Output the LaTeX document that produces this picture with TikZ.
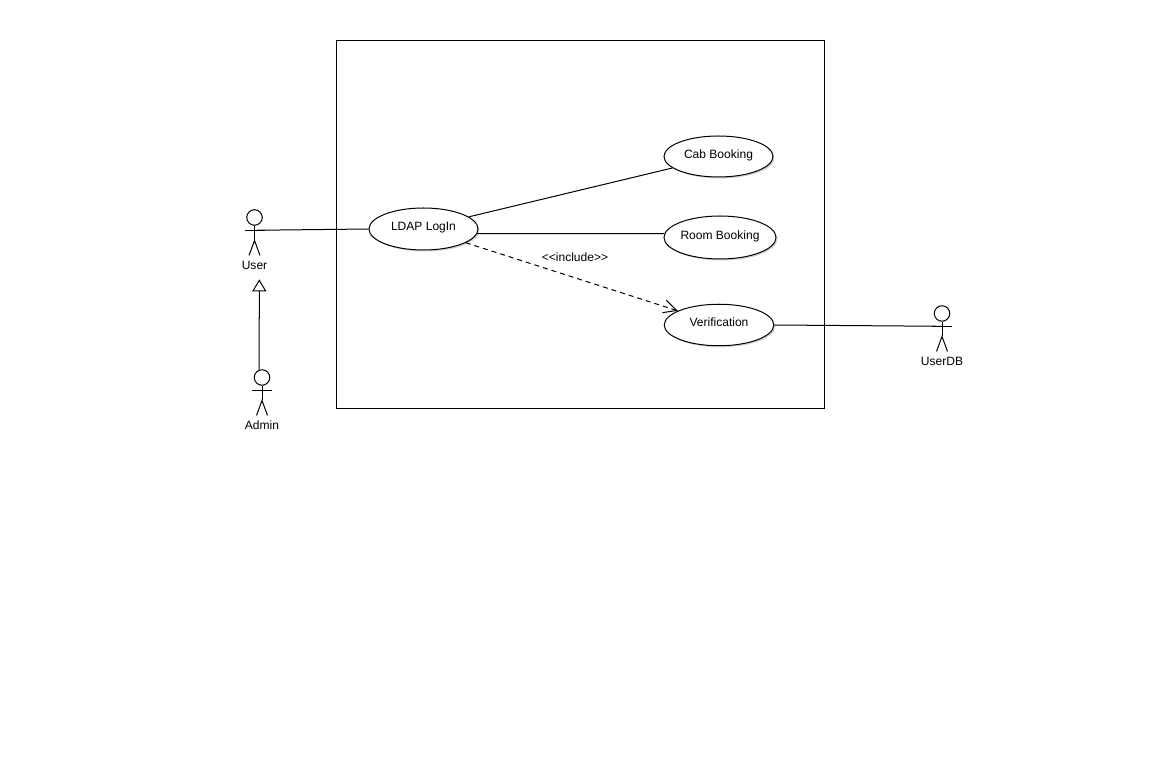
\documentclass[tikz,border=0pt]{standalone}
\usepackage{fontspec}
\setmainfont{Liberation Sans}
\usetikzlibrary{arrows.meta}
\usetikzlibrary{shapes.geometric}
\usetikzlibrary{shadows}

\tikzset{
  labeltext/.style={font=\fontsize{6.85}{8}\selectfont},
  usecase/.style={ellipse, draw, fill=white, inner sep=0, labeltext, text height=.18cm, text depth=.10cm,
    drop shadow={shadow xshift=.03cm, shadow yshift=-.03cm, fill=gray!70}},
  actorhead/.style={circle, draw, inner sep=0, minimum size=.31cm},
  actor/.pic={
    \node[actorhead] (-head) at (0,0) {};
    \coordinate (-arm) at (0,-.256);
    \draw (-.2,-.256) -- (.2,-.256);
    \draw (-head.south) -- (0,-.46);
    \draw (-.11,-.76) -- (0,-.46) -- (.11,-.76);
    \node[labeltext] (-label) at (0,-.95) {#1};
  },
  generalize/.style={-{Triangle[open, length=.24cm, width=.28cm]}},
  include/.style={dashed, dash pattern=on .1cm off .08cm, -{Straight Barb[length=.26cm, width=.26cm]}},
}

\begin{document}
\begin{tikzpicture}[line width=.57pt]

\useasboundingbox (0,0) rectangle (23.14,-15.34);

\node[draw, inner sep=0, minimum width=9.76cm, minimum height=7.35cm] (system) at (11.61,-4.49) {};

\node[usecase, minimum width=2.18cm, minimum height=.84cm] (ldap) at (8.47,-4.58) {LDAP LogIn};
\node[usecase, minimum width=2.18cm, minimum height=.82cm] (cab) at (14.37,-3.13) {Cab Booking};
\node[usecase, minimum width=2.24cm, minimum height=.86cm] (room) at (14.40,-4.75) {Room Booking};
\node[usecase, minimum width=2.19cm, minimum height=.83cm] (verify) at (14.38,-6.50) {Verification};

\pic (user) at (5.09,-4.35) {actor=User};
\pic (admin) at (5.24,-7.55) {actor=Admin};
\pic (userdb) at (18.84,-6.27) {actor=UserDB};

\coordinate (gentip) at (5.186,-5.586);

\draw (user-arm) -- (ldap.west);
\draw (ldap.15) -- (cab.194);
\draw (ldap.-5) -- (room.176);
\draw[include] (ldap.-18.6) -- node[labeltext, pos=.515, yshift=.42cm] (includelabel) {{<}{<}include{>}{>}} (verify.161.6);
\draw (verify.east) -- (userdb-arm);
\draw[generalize] (admin-head.110) -- (gentip);

\end{tikzpicture}
\end{document}
